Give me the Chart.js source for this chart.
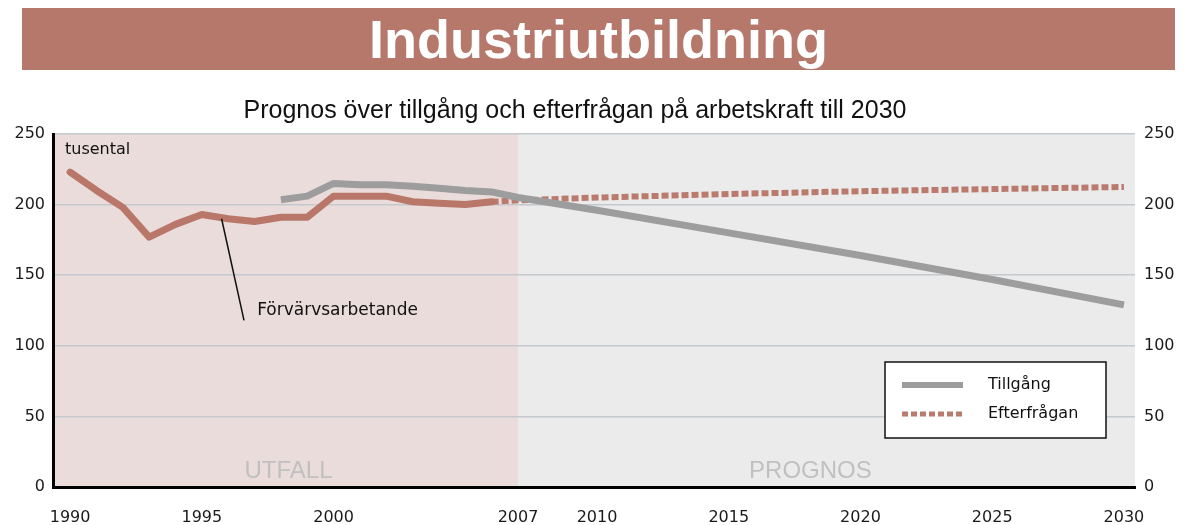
<!DOCTYPE html>
<html lang="sv">
<head>
<meta charset="utf-8">
<title>Industriutbildning</title>
<script src="https://cdn.jsdelivr.net/npm/chart.js@4/dist/chart.umd.min.js"></script>
<style>
  html, body { margin: 0; padding: 0; background: #fff; }
  #wrap { position: relative; width: 1192px; height: 525px; overflow: hidden; }
  #banner {
    position: absolute; left: 22px; top: 8px; width: 1153px; height: 62px;
    background: #b5786b; color: #fff; text-align: center; line-height: 62px;
    font: bold 54px "Liberation Sans", Arial, sans-serif;
  }
  #sub {
    position: absolute; left: 0; top: 95px; width: 1150px; text-align: center;
    font: 25px "Liberation Sans", Arial, sans-serif; color: #111;
  }
  canvas { position: absolute; left: 0; top: 0; }
</style>
</head>
<body>
<div id="wrap">
  <canvas id="chart" width="1192" height="525"></canvas>
  <div id="banner">Industriutbildning</div>
  <div id="sub">Prognos över tillgång och efterfrågan på arbetskraft till 2030</div>
</div>
<script>
// Employed in industry, thousands (outcome period)
const employedYears = [1990, 1991, 1992, 1993, 1994, 1995, 1996, 1997, 1998, 1999, 2000, 2001, 2002, 2003, 2004, 2005, 2006];
const employed      = [223,  210,  198,  177,  186,  193,  190,  188,  191,  191,  206,  206,  206,  202,  201,  200,  202];

// Labour supply (Tillgång), thousands
const supplyYears = [1998, 1999, 2000, 2001, 2002, 2003, 2004, 2005, 2006, 2007, 2010, 2015, 2020, 2025, 2030];
const supply      = [203.5, 206, 215,  214,  214,  213, 211.5, 210,  209,  205,  196,  180,  164,  147,  129];

// Labour demand (Efterfrågan), thousands
const demandYears = [2006, 2007, 2010, 2015, 2020, 2025, 2030];
const demand      = [202,  203,  205, 207.5, 209.5, 211, 212.5];

const xTickYears = [1990, 1995, 2000, 2007, 2010, 2015, 2020, 2025, 2030];
const forecastStart = 2007;

const seriesLabels = { employed: 'Förvärvsarbetande', supply: 'Tillgång', demand: 'Efterfrågan' };
const periodLabels = ['UTFALL', 'PROGNOS'];
const unitLabel = 'tusental';

const RED = '#b97769';
const RED_DOT = '#ba7b6e';
const GREY = '#9d9d9d';
const TICK_FONT = { family: '"DejaVu Sans", sans-serif', size: 16 };

const toPoints = (xs, ys) => xs.map((x, i) => ({ x, y: ys[i] }));

// Shaded outcome / forecast periods behind the grid
const periodShading = {
  id: 'periodShading',
  beforeDraw(chart) {
    const { ctx, chartArea: a, scales: { x } } = chart;
    const split = x.getPixelForValue(forecastStart);
    ctx.save();
    ctx.fillStyle = '#eadcda';
    ctx.fillRect(a.left, a.top, split - a.left, a.bottom - a.top);
    ctx.fillStyle = '#eaebea';
    ctx.fillRect(split, a.top, a.right - split, a.bottom - a.top);
    ctx.restore();
  }
};

// Period captions, unit label and the series annotation
const captions = {
  id: 'captions',
  beforeDatasetsDraw(chart) {
    const { ctx, chartArea: a, scales: { x } } = chart;
    const split = x.getPixelForValue(forecastStart);
    ctx.save();
    ctx.fillStyle = '#c0c0c0';
    ctx.font = '24px "Liberation Sans", Arial, sans-serif';
    ctx.textAlign = 'center';
    ctx.textBaseline = 'middle';
    ctx.fillText(periodLabels[0], (a.left + split) / 2 + 3, a.bottom - 16);
    ctx.fillText(periodLabels[1], x.getPixelForValue(2018.1), a.bottom - 16);

    ctx.fillStyle = '#111';
    ctx.font = '16px "DejaVu Sans", sans-serif';
    ctx.textAlign = 'left';
    ctx.fillText(unitLabel, a.left + 12, a.top + 16);
    ctx.restore();
  },
  afterDatasetsDraw(chart) {
    const { ctx, scales: { x, y } } = chart;
    ctx.save();
    // leader line to the employed series
    ctx.strokeStyle = '#111';
    ctx.lineWidth = 1.5;
    ctx.beginPath();
    ctx.moveTo(x.getPixelForValue(1995.75), y.getPixelForValue(190));
    ctx.lineTo(x.getPixelForValue(1996.6), y.getPixelForValue(118));
    ctx.stroke();
    ctx.fillStyle = '#111';
    ctx.font = '17px "DejaVu Sans", sans-serif';
    ctx.textAlign = 'left';
    ctx.textBaseline = 'middle';
    ctx.fillText(seriesLabels.employed, x.getPixelForValue(1997.1), y.getPixelForValue(125));
    ctx.restore();
  }
};

// Boxed legend for the two forecast series
const boxLegend = {
  id: 'boxLegend',
  afterDraw(chart) {
    const { ctx, chartArea: a } = chart;
    const bx = a.right - 250, by = a.top + 228, bw = 221, bh = 76;
    ctx.save();
    ctx.fillStyle = '#fff';
    ctx.fillRect(bx, by, bw, bh);
    ctx.strokeStyle = '#111';
    ctx.lineWidth = 1.5;
    ctx.strokeRect(bx, by, bw, bh);

    const items = [chart.data.datasets[1], chart.data.datasets[2]];
    items.forEach((ds, i) => {
      const ly = by + 23 + i * 29;
      ctx.strokeStyle = ds.borderColor;
      ctx.lineWidth = i === 0 ? 6 : 5;
      ctx.setLineDash(i === 0 ? [] : [6, 3]);
      ctx.beginPath();
      ctx.moveTo(bx + 17, ly);
      ctx.lineTo(bx + 78, ly);
      ctx.stroke();
      ctx.setLineDash([]);
      ctx.fillStyle = '#111';
      ctx.font = '16px "DejaVu Sans", sans-serif';
      ctx.textAlign = 'left';
      ctx.textBaseline = 'middle';
      ctx.fillText(ds.label, bx + 103, ly);
    });
    ctx.restore();
  }
};

new Chart(document.getElementById('chart'), {
  type: 'line',
  data: {
    datasets: [
      {
        label: seriesLabels.employed,
        data: toPoints(employedYears, employed),
        borderColor: RED, borderWidth: 7, pointRadius: 0,
        borderJoinStyle: 'round', borderCapStyle: 'round', tension: 0
      },
      {
        label: seriesLabels.supply,
        data: toPoints(supplyYears, supply),
        borderColor: GREY, borderWidth: 7, pointRadius: 0,
        borderJoinStyle: 'round', borderCapStyle: 'butt', tension: 0
      },
      {
        label: seriesLabels.demand,
        data: toPoints(demandYears, demand),
        borderColor: RED_DOT, borderWidth: 6, pointRadius: 0,
        borderDash: [7, 3], borderCapStyle: 'butt', tension: 0
      }
    ]
  },
  options: {
    responsive: false,
    animation: false,
    devicePixelRatio: 1,
    layout: { padding: { top: 134, left: 0, right: 0, bottom: 0 } },
    plugins: { legend: { display: false }, tooltip: { enabled: false }, title: { display: false } },
    scales: {
      x: {
        type: 'linear', position: 'bottom', min: 1989.35, max: 2030.42,
        grid: { display: false, drawTicks: false },
        border: { display: true, color: '#000', width: 3 },
        ticks: { font: TICK_FONT, color: '#1a1a1a', padding: 21, autoSkip: false, maxRotation: 0,
                 callback: v => String(v) },
        afterBuildTicks: s => { s.ticks = xTickYears.map(v => ({ value: v })); },
        afterFit: s => { s.height = 38; }
      },
      y: {
        type: 'linear', position: 'left', min: 0, max: 250,
        grid: { color: '#c4c9cd', lineWidth: 1.5, drawTicks: false },
        border: { display: true, color: '#000', width: 3 },
        ticks: { stepSize: 50, font: TICK_FONT, color: '#1a1a1a', padding: 8 },
        afterFit: s => { s.width = 53; }
      },
      y2: {
        type: 'linear', position: 'right', min: 0, max: 250, display: true,
        grid: { display: false, drawTicks: false },
        border: { display: false },
        ticks: { stepSize: 50, font: TICK_FONT, color: '#1a1a1a', padding: 9 },
        afterFit: s => { s.width = 57; }
      }
    }
  },
  plugins: [periodShading, captions, boxLegend]
});
</script>
</body>
</html>
